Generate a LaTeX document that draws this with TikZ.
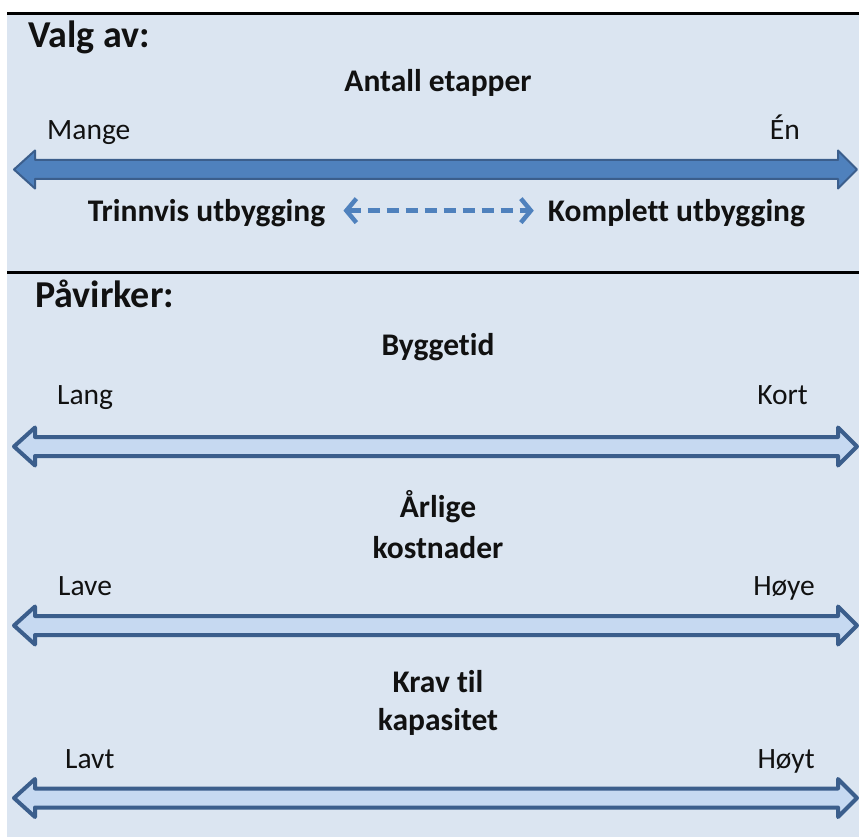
\documentclass[tikz,border=0pt]{standalone}
\usepackage{fontspec}
\setmainfont[Ligatures={NoCommon,TeX}]{Carlito}
\usetikzlibrary{arrows.meta}
\definecolor{bgblue}{HTML}{DBE5F1}
\definecolor{arrowfill}{HTML}{C6D9F1}
\definecolor{arrowedge}{HTML}{3B5E8C}
\definecolor{accent}{HTML}{4F81BD}
\definecolor{txt}{HTML}{111111}
\newcommand{\DArrow}[2]{%
  \draw[#2] (14,#1) -- (35,{#1-19}) -- (35,{#1-9.5}) -- (838,{#1-9.5}) -- (838,{#1-19})
    -- (857,#1) -- (838,{#1+19}) -- (838,{#1+9.5}) -- (35,{#1+9.5}) -- (35,{#1+19}) -- cycle;}
\tikzset{
  lbl/.style={inner sep=0pt, text=txt, font=\fontsize{29.5}{34}\selectfont},
  head/.style={lbl, font=\fontsize{31.5}{36}\selectfont\bfseries},
  title/.style={lbl, font=\fontsize{38}{44}\selectfont\bfseries},
  hollowarrow/.style={fill=arrowfill, draw=arrowedge, line width=4pt, line join=round},
  solidarrow/.style={fill=accent, draw=arrowedge, line width=2pt, line join=round},
  dasharrow/.style={draw=accent, line width=4.5pt, dash pattern=on 12pt off 7pt,
    {Straight Barb[length=10pt,width=24pt]}-{Straight Barb[length=10pt,width=24pt]}}
}
\begin{document}
\begin{tikzpicture}[x=1pt,y=-1pt]
\useasboundingbox (0,0) rectangle (859,837);
\fill[bgblue] (7,14) rectangle (859,837);
\draw[line width=3pt] (7,14) -- (859,14);
\draw[line width=3pt] (7,272) -- (859,272);

% Section 1
\node[title, anchor=base west] (valg) at (28,48) {Valg av:};
\node[head, anchor=base] (antall) at (438,92) {Antall etapper};
\node[lbl, anchor=base west] (mange) at (47,140) {Mange};
\node[lbl, anchor=base east] (en) at (800,140) {Én};
\DArrow{169.5}{solidarrow}
\node[head, anchor=base] (trinn) at (206.5,222) {Trinnvis utbygging};
\node[head, anchor=base] (kompl) at (676.5,222) {Komplett utbygging};
\draw[dasharrow, shorten <=18pt, shorten >=14pt] ([yshift=3pt]trinn.east) -- ([yshift=3pt]kompl.west);

% Section 2
\node[title, anchor=base west] (pavirker) at (35,307) {Påvirker:};
\node[head, anchor=base] (bygg) at (438,355) {Byggetid};
\node[lbl, anchor=base west] (lang) at (57,404) {Lang};
\node[lbl, anchor=base east] (kort) at (808,404) {Kort};
\DArrow{446.5}{hollowarrow}

\node[head, anchor=base] (arlige) at (438,517) {Årlige};
\node[head, anchor=base] (kostn) at (438,558) {kostnader};
\node[lbl, anchor=base west] (lave) at (58,595) {Lave};
\node[lbl, anchor=base east] (hoye) at (815,595) {Høye};
\DArrow{625.5}{hollowarrow}

\node[head, anchor=base] (krav) at (438,692) {Krav til};
\node[head, anchor=base] (kapas) at (438,730) {kapasitet};
\node[lbl, anchor=base west] (lavt) at (65,768) {Lavt};
\node[lbl, anchor=base east] (hoyt) at (815,768) {Høyt};
\DArrow{798}{hollowarrow}
\end{tikzpicture}
\end{document}
